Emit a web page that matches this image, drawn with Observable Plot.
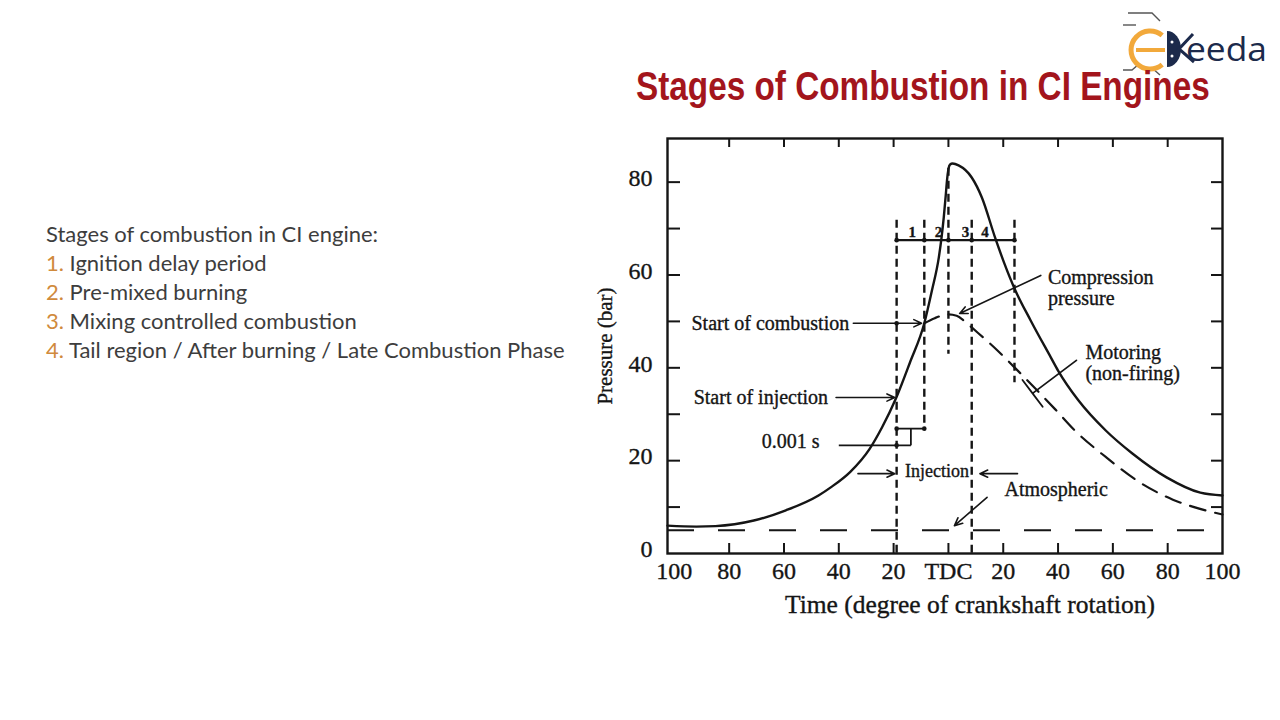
<!DOCTYPE html>
<html>
<head>
<meta charset="utf-8">
<script src="https://cdn.jsdelivr.net/npm/d3@7"></script>
<script src="https://cdn.jsdelivr.net/npm/@observablehq/plot@0.6"></script>
<style>
  html, body { margin: 0; padding: 0; background: #fff; }
  #slide { position: relative; width: 1280px; height: 720px; overflow: hidden; background: #fff; }
  #notes { position: absolute; left: 46px; top: 219px; font-family: Lato, "Open Sans", sans-serif;
           font-size: 22px; line-height: 29px; color: #3d3d3d; white-space: nowrap; }
  #notes .n { color: #d08a3c; }
  #chart { position: absolute; left: 580px; top: 120px; }
  #deco { position: absolute; left: 0; top: 0; }
</style>
</head>
<body>
<div id="slide">
  <svg id="deco" width="1280" height="125" xmlns="http://www.w3.org/2000/svg">
    <g fill="none" stroke="#555" stroke-width="1.4">
      <path d="M1128,13 L1152,13 L1160,21"/>
      <path d="M1123,25 L1136,25"/>
      <path d="M1123,70 L1132,70 L1139,64"/>
      <path d="M1152,68 L1160,75"/>
    </g>
    <path d="M1162.2,35.4 A19,19 0 1,0 1162.2,64.6" fill="none" stroke="#f2a93b" stroke-width="5"/>
    <line x1="1136" y1="50" x2="1165" y2="50" stroke="#f2a93b" stroke-width="4"/>
    <path d="M1167,31 A14,18 0 0,1 1167,67 Z" fill="#1c2a4b"/>
    <circle cx="1172" cy="42" r="1.5" fill="#fff"/>
    <circle cx="1172" cy="56" r="1.5" fill="#fff"/>
    <path d="M1193,34 L1179,49 L1194,62" fill="none" stroke="#1c2a4b" stroke-width="3"/>
    <text x="1186" y="61" font-family="'Open Sans', sans-serif" font-size="32" fill="#1c2a4b" textLength="81" lengthAdjust="spacingAndGlyphs">eeda</text>
    <text id="title" x="0" y="0" font-family="'Liberation Sans',Arial,sans-serif" font-weight="bold" font-size="40" fill="#a3151c">Stages of Combustion in CI Engines</text>
  </svg>
  <div id="notes"></div>
  <div id="chart"></div>
</div>
<script>
// ---------- data ----------
const titleText = "Stages of Combustion in CI Engines";
const noteHeading = "Stages of combustion in CI engine:";
const noteItems = ["Ignition delay period", "Pre-mixed burning", "Mixing controlled combustion",
                   "Tail region / After burning / Late Combustion Phase"];

const xDomain = [-102.5, 100];
const yDomain = [0, 89.4];
const xTickValues = [-100, -80, -60, -40, -20, 0, 20, 40, 60, 80, 100];
const xTickLabels = ["100", "80", "60", "40", "20", "TDC", "20", "40", "60", "80", "100"];
const yMinorTicks = [10, 20, 30, 40, 50, 60, 70, 80];
const yLabelTicks = [0, 20, 40, 60, 80];

// firing pressure (solid)
const firingDeg = [-102.5, -92, -85, -71, -59.3, -47.4, -42.8, -35.8, -28.8, -24.2, -19, -14, -8.8, -6, -3.5, -2.5, -1.7, -1.0, -0.5, 0, 0.6, 1.5,
                   3.7, 8.5, 12.2, 17, 20.4, 24.1, 30, 37.4, 40, 47.4, 57.4, 67, 79.6, 91.9, 100];
const firingBar = [6.0, 5.8, 5.9, 7.1, 9.3, 12.5, 14.3, 17.6, 22.5, 27.2, 33.6, 41.2, 49.6, 56.7, 63.8, 68.1, 72.4, 77.0, 80.5, 82.8, 83.8, 84.0,
                   83.6, 81.0, 76.7, 68.1, 62.5, 57.1, 50.2, 42.2, 39.4, 33.0, 26.5, 21.6, 16.4, 13.1, 12.5];

// motoring / compression pressure (dashed)
const motoringDeg = [-8.8, -5, 0, 3, 5.6, 8.5, 17.8, 24.1, 32.6, 38.9, 46.3, 57.4, 69.6, 81.9, 94.4, 100];
const motoringBar = [49.6, 50.7, 51.5, 51.2, 50.2, 48.7, 43.8, 40.1, 35.0, 31.1, 26.4, 20.8, 15.4, 11.6, 9.2, 8.4];

const atmosphericBar = 5.0;

// vertical stage boundaries (dashed)
const stageLineDeg = [-18.9, -8.8, 0, 8.5, 24.1];
const stageLineTop = [71.8, 71.8, 83.0, 71.8, 71.8];
const stageLineBottom = [0, 26.9, 42.9, 0, 36.8];
const stageBarLevel = 67.5;
const stageNames = ["1", "2", "3", "4"];
const stageNameDeg = [-13.2, -3.6, 6.2, 13.3];

// 0.001 s bracket
const bracketX1 = [-40, -13.7, -18.9];
const bracketY1 = [23.3, 23.3, 26.9];
const bracketX2 = [-13.7, -13.7, -8.8];
const bracketY2 = [23.3, 26.9, 26.9];

// annotations
const noteText = ["Start of combustion", "Start of injection", "0.001 s", "Injection", "Atmospheric",
                  "Compression\npressure", "Motoring\n(non-firing)"];
const noteDeg = [-36.2, -43.9, -47, -4.2, 39.3, 36.3, 50];
const noteBar = [49.6, 33.6, 24.1, 17.7, 13.8, 57.3, 41.1];
const noteAlign = ["end", "end", "end", "middle", "middle", "start", "start"];

const arrowX1 = [-34.7, -41, -33, 25.2, 14.1, 33.7];
const arrowY1 = [49.6, 33.6, 17.2, 17.2, 12.1, 59.9];
const arrowX2 = [-9.8, -19.6, -19.6, 11.5, 2.2, 4.1];
const arrowY2 = [49.6, 33.6, 17.2, 17.2, 6.0, 51.7];
const barArrowX1 = [46.7], barArrowY1 = [41.6], barArrowX2 = [30.7], barArrowY2 = [34.5];

const xAxisTitle = "Time (degree of crankshaft rotation)";
const yAxisTitle = "Pressure (bar)";

// ---------- title (condensed to the reference width) ----------
const titleEl = document.getElementById("title");
titleEl.textContent = titleText;
const naturalW = titleEl.getComputedTextLength();
titleEl.setAttribute("transform", `translate(636,100) scale(${574 / naturalW},1)`);

// ---------- notes ----------
const notes = document.getElementById("notes");
notes.innerHTML = `<div>${noteHeading}</div>` +
  noteItems.map((t, i) => `<div><span class="n">${i + 1}.</span> ${t}</div>`).join("");

// ---------- tables ----------
const firing = firingDeg.map((d, i) => ({deg: d, bar: firingBar[i]}));
const motoring = motoringDeg.map((d, i) => ({deg: d, bar: motoringBar[i]}));
const stageLines = stageLineDeg.map((d, i) => ({deg: d, top: stageLineTop[i], bottom: stageLineBottom[i]}));
const stageBar = [{x1: stageLineDeg[0], x2: stageLineDeg[stageLineDeg.length - 1], y: stageBarLevel}];
const stageLabels = stageNames.map((s, i) => ({s, deg: stageNameDeg[i], bar: stageBarLevel}));
const bracket = bracketX1.map((d, i) => ({x1: d, y1: bracketY1[i], x2: bracketX2[i], y2: bracketY2[i]}));
const notesT = noteText.map((t, i) => ({t, deg: noteDeg[i], bar: noteBar[i], a: noteAlign[i]}));
const arrows = arrowX1.map((d, i) => ({x1: d, y1: arrowY1[i], x2: arrowX2[i], y2: arrowY2[i]}));
const barArrows = barArrowX1.map((d, i) => ({x1: d, y1: barArrowY1[i], x2: barArrowX2[i], y2: barArrowY2[i]}));
const dots = [
  ...stageLineDeg.map(d => ({deg: d, bar: stageBarLevel})),
  {deg: stageLineDeg[0], bar: noteBar[0]},
  {deg: stageLineDeg[0], bar: bracketY1[0]},
  {deg: stageLineDeg[0], bar: bracketY1[2]},
  {deg: stageLineDeg[1], bar: bracketY1[2]}
];
const labelOf = new Map(xTickValues.map((v, i) => [v, xTickLabels[i]]));

// ---------- plot ----------
const W = 680, H = 520, mL = 87, mR = 38, mT = 18, mB = 87;
const frameW = W - mL - mR, frameH = H - mT - mB;
const ink = "#151515";
const serif = "'Liberation Serif','Times New Roman',serif";

const plot = Plot.plot({
  width: W, height: H,
  marginLeft: mL, marginRight: mR, marginTop: mT, marginBottom: mB,
  x: {type: "linear", domain: xDomain},
  y: {type: "linear", domain: yDomain},
  style: {fontFamily: serif, color: ink, background: "transparent", overflow: "visible"},
  marks: [
    Plot.ruleY([atmosphericBar], {stroke: ink, strokeWidth: 2, strokeDasharray: "27,24"}),
    Plot.ruleX(stageLines, {x: "deg", y1: "top", y2: "bottom", stroke: ink, strokeWidth: 2.4, strokeDasharray: "8,5"}),
    Plot.line(motoring, {x: "deg", y: "bar", stroke: ink, strokeWidth: 2.2, strokeDasharray: "16,10", curve: "monotone-x"}),
    Plot.line(firing, {x: "deg", y: "bar", stroke: ink, strokeWidth: 2.4, curve: "monotone-x"}),
    Plot.ruleY(stageBar, {y: "y", x1: "x1", x2: "x2", stroke: ink, strokeWidth: 2.2}),
    Plot.link(bracket, {x1: "x1", y1: "y1", x2: "x2", y2: "y2", stroke: ink, strokeWidth: 1.8}),
    Plot.dot(dots, {x: "deg", y: "bar", r: 2.3, fill: ink}),
    Plot.text(stageLabels, {x: "deg", y: "bar", text: "s", dy: -8, fontSize: 15, fontWeight: "bold", fill: ink}),
    Plot.arrow(arrows, {x1: "x1", y1: "y1", x2: "x2", y2: "y2", stroke: ink, strokeWidth: 1.6, headLength: 8, headAngle: 50}),
    Plot.arrow(barArrows, {x1: "x1", y1: "y1", x2: "x2", y2: "y2", stroke: ink, strokeWidth: 1.8, headLength: 14, headAngle: 180}),
    ...["start", "middle", "end"].map(a =>
      Plot.text(notesT.filter(d => d.a === a), {x: "deg", y: "bar", text: "t", textAnchor: a,
        fontSize: d => d.t === "Injection" ? 18 : 20, lineHeight: 1.05, fill: ink})),
    Plot.frame({stroke: ink, strokeWidth: 2.4}),
    Plot.tickX(xTickValues.slice(1, -1), {insetTop: frameH - 10, stroke: ink, strokeWidth: 2}),
    Plot.tickX(xTickValues.slice(1, -1), {insetBottom: frameH - 9, stroke: ink, strokeWidth: 2}),
    Plot.tickY(yMinorTicks, {insetRight: frameW - 13, stroke: ink, strokeWidth: 2}),
    Plot.tickY(yMinorTicks, {insetLeft: frameW - 11, stroke: ink, strokeWidth: 2}),
    Plot.axisX(xTickValues, {anchor: "bottom", tickSize: 0, tickPadding: 8, fontSize: 24,
      tickFormat: d => labelOf.get(d), label: null}),
    Plot.axisY(yLabelTicks, {anchor: "left", tickSize: 0, tickPadding: 15, fontSize: 24, dy: -4, label: null}),
    Plot.text([yAxisTitle], {text: d => d, frameAnchor: "left", textAnchor: "middle", lineAnchor: "middle",
      dx: -62, rotate: -90, fontSize: 21, fill: ink}),
    Plot.text([xAxisTitle], {text: d => d, frameAnchor: "bottom", textAnchor: "middle", lineAnchor: "middle",
      dx: 25, dy: 51, fontSize: 25.5, fill: ink})
  ]
});
d3.select(plot).selectAll("text").attr("stroke", ink).attr("stroke-width", 0.35);
document.getElementById("chart").appendChild(plot);
</script>
</body>
</html>
